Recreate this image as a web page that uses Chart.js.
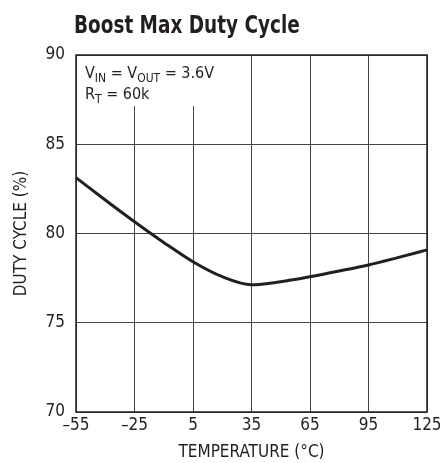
<!DOCTYPE html>
<html>
<head>
<meta charset="utf-8">
<script src="https://cdn.jsdelivr.net/npm/chart.js@4"></script>
<style>
  html, body { margin: 0; padding: 0; background: #fff; }
</style>
</head>
<body>
<canvas id="Chart-duty" width="440" height="463"></canvas>
<script>
const temps = [-55, -40, -25, -10, 5, 20, 35, 50, 65, 80, 95, 110, 125]
const duty = [83.13, 81.88, 80.66, 79.5, 78.42, 77.58, 77.13, 77.3, 77.58, 77.9, 78.24, 78.65, 79.08]
const xTicks = [-55, -25, 5, 35, 65, 95, 125]
const yTicks = [70, 75, 80, 85, 90]

const FONT = "'Liberation Sans Narrow', 'DejaVu Sans Condensed', sans-serif"
const INK = '#231f20'

// title, frame and the condition note drawn on top of the plot
const decor = {
    id: 'decor',
    beforeDatasetsDraw(chart) {
        const {ctx, chartArea: a} = chart
        ctx.save()
        ctx.fillStyle = '#fff'
        ctx.fillRect(a.left + 1, a.top + 1, 138, 50)
        ctx.restore()
    },
    afterDraw(chart) {
        const {ctx, chartArea: a} = chart
        ctx.save()
        ctx.strokeStyle = INK
        ctx.lineWidth = 1.5
        ctx.strokeRect(a.left, a.top, a.right - a.left, a.bottom - a.top)

        ctx.fillStyle = INK
        ctx.textBaseline = 'alphabetic'
        // condensed look for the heading
        ctx.save()
        ctx.translate(a.left - 2, 33)
        ctx.scale(0.82, 1)
        ctx.font = `bold 25px ${FONT}`
        ctx.fillText('Boost Max Duty Cycle', 0, 0)
        ctx.restore()

        const parts = [
            [['V', 0], ['IN', 1], [' = V', 0], ['OUT', 1], [' = 3.6V', 0]],
            [['R', 0], ['T', 1], [' = 60k', 0]]
        ]
        let y = a.top + 23
        parts.forEach(line => {
            let x = a.left + 9
            line.forEach(([txt, sub]) => {
                ctx.font = sub ? `12px ${FONT}` : `16px ${FONT}`
                ctx.fillText(txt, x, y + (sub ? 4 : 0))
                x += ctx.measureText(txt).width
            })
            y += 21
        })
        ctx.restore()
    }
}

new Chart('Chart-duty', {
    type: 'scatter',
    data: {
        datasets: [{
            data: temps.map((t, i) => ({x: t, y: duty[i]})),
            showLine: true,
            borderColor: INK,
            borderWidth: 3,
            pointRadius: 0,
            cubicInterpolationMode: 'monotone',
            clip: false
        }]
    },
    options: {
        responsive: false,
        animation: false,
        devicePixelRatio: 1,
        layout: {padding: {top: 55, right: 0, bottom: 0, left: 11}},
        plugins: {legend: {display: false}, tooltip: {enabled: false}},
        scales: {
            x: {
                type: 'linear',
                min: -55, max: 125,
                afterBuildTicks: s => { s.ticks = xTicks.map(v => ({value: v})) },
                afterFit: s => { s.height = 51; s.paddingRight = 13 },
                grid: {color: '#444', lineWidth: 1, drawTicks: false},
                border: {display: false},
                ticks: {
                    color: INK, padding: 3, maxRotation: 0,
                    font: {family: FONT, size: 17},
                    callback: v => String(v).replace('-', '\u2013')
                },
                title: {display: true, text: 'TEMPERATURE (°C)', color: INK,
                    font: {family: FONT, size: 17}, padding: {top: 0, bottom: 0}}
            },
            y: {
                min: 70, max: 90,
                afterBuildTicks: s => { s.ticks = yTicks.map(v => ({value: v})) },
                afterFit: s => { s.width = 65 },
                grid: {color: '#444', lineWidth: 1, drawTicks: false},
                border: {display: false},
                ticks: {color: INK, padding: 11, font: {family: FONT, size: 17}},
                title: {display: true, text: 'DUTY CYCLE (%)', color: INK,
                    font: {family: FONT, size: 17}, padding: {top: 0, bottom: 0}}
            }
        }
    },
    plugins: [decor]
})
</script>
</body>
</html>
